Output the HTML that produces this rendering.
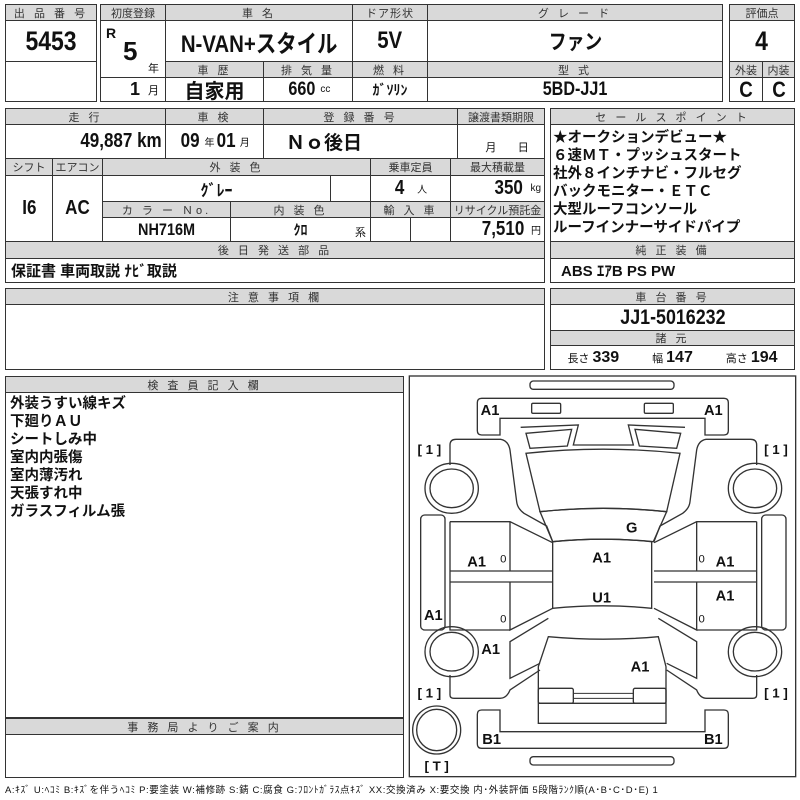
<!DOCTYPE html>
<html><head><meta charset="utf-8">
<style>
body{margin:0;background:#fff;width:800px;height:800px;position:relative;overflow:hidden;font-family:"Liberation Sans","Noto Sans CJK JP",sans-serif;color:#111}
.c{position:absolute;box-sizing:border-box;border:1px solid #333;display:flex;align-items:center;justify-content:center;white-space:nowrap;background:#fff}
.h{background:#d9d9d9;font-size:11px;letter-spacing:3px;color:#333}
.b{font-weight:bold}
.t{position:absolute;white-space:nowrap}
.s{font-size:10px;font-weight:normal;margin-left:3px}
.n{display:inline-block;transform:scaleX(.85)}
</style></head><body>
<!-- block1 -->
<div class="c h" style="left:5px;top:4px;width:92px;height:17px">出 品 番 号</div>
<div class="c b" style="left:5px;top:20px;width:92px;height:42px;font-size:27px"><span class="n">5453</span></div>
<div class="c" style="left:5px;top:61px;width:92px;height:41px"></div>
<!-- block2 -->
<div class="c h" style="left:100px;top:4px;width:66px;height:17px;letter-spacing:0">初度登録</div>
<div class="c h" style="left:165px;top:4px;width:188px;height:17px">車 名</div>
<div class="c h" style="left:352px;top:4px;width:76px;height:17px;letter-spacing:1px">ドア形状</div>
<div class="c h" style="left:427px;top:4px;width:296px;height:17px">グ レ ー ド</div>
<div class="c b" style="left:100px;top:20px;width:66px;height:58px"></div>
<div class="t b" style="left:106px;top:25px;font-size:14px">R</div>
<div class="t b" style="left:123px;top:36px;font-size:26px">5</div>
<div class="t" style="left:148px;top:60px;font-size:11px">年</div>
<div class="c" style="left:100px;top:77px;width:66px;height:25px;justify-content:flex-end;padding-right:6px"><span class="b" style="font-size:18px">1</span><span style="font-size:11px;margin-left:8px">月</span></div>
<div class="c b" style="left:165px;top:20px;width:188px;height:42px;font-size:24px"><span class="n">N-VAN+スタイル</span></div>
<div class="c b" style="left:352px;top:20px;width:76px;height:42px;font-size:24px"><span class="n">5V</span></div>
<div class="c b" style="left:427px;top:20px;width:296px;height:42px;font-size:21px"><span class="n">ファン</span></div>
<div class="c h" style="left:165px;top:61px;width:99px;height:17px">車 歴</div>
<div class="c h" style="left:263px;top:61px;width:90px;height:17px">排 気 量</div>
<div class="c h" style="left:352px;top:61px;width:76px;height:17px">燃 料</div>
<div class="c h" style="left:427px;top:61px;width:296px;height:17px">型 式</div>
<div class="c b" style="left:165px;top:77px;width:99px;height:25px;font-size:20px">自家用</div>
<div class="c b" style="left:263px;top:77px;width:90px;height:25px;font-size:19px"><span class="n">660</span><span class="s">cc</span></div>
<div class="c b" style="left:352px;top:77px;width:76px;height:25px;font-size:14px">ｶﾞｿﾘﾝ</div>
<div class="c b" style="left:427px;top:77px;width:296px;height:25px;font-size:19px"><span class="n">5BD-JJ1</span></div>
<!-- block3 -->
<div class="c h" style="left:729px;top:4px;width:66px;height:17px;letter-spacing:0">評価点</div>
<div class="c b" style="left:729px;top:20px;width:66px;height:42px;font-size:27px"><span class="n">4</span></div>
<div class="c h" style="left:729px;top:61px;width:34px;height:17px;letter-spacing:0">外装</div>
<div class="c h" style="left:762px;top:61px;width:33px;height:17px;letter-spacing:0">内装</div>
<div class="c b" style="left:729px;top:77px;width:34px;height:25px;font-size:22px"><span class="n">C</span></div>
<div class="c b" style="left:762px;top:77px;width:33px;height:25px;font-size:22px"><span class="n">C</span></div>
<!-- section2 -->
<div class="c h" style="left:5px;top:108px;width:161px;height:17px">走 行</div>
<div class="c h" style="left:165px;top:108px;width:99px;height:17px">車 検</div>
<div class="c h" style="left:263px;top:108px;width:195px;height:17px">登 録 番 号</div>
<div class="c h" style="left:457px;top:108px;width:88px;height:17px;letter-spacing:0">譲渡書類期限</div>
<div class="c b" style="left:5px;top:124px;width:161px;height:35px;justify-content:flex-end;padding-right:3px;font-size:20px"><span class="n" style="transform-origin:right">49,887 km</span></div>
<div class="c b" style="left:165px;top:124px;width:99px;height:35px;font-size:20px"><span class="n">09</span><span class="s">年</span><span class="n">01</span><span class="s">月</span></div>
<div class="c b" style="left:263px;top:124px;width:195px;height:35px;justify-content:flex-start;padding-left:22px;font-size:19px">Ｎｏ後日</div>
<div class="c" style="left:457px;top:124px;width:88px;height:35px;align-items:flex-end;padding-bottom:3px;font-size:11px">&nbsp;&nbsp;&nbsp;&nbsp;月&nbsp;&nbsp;&nbsp;&nbsp;&nbsp;&nbsp;&nbsp;日</div>
<div class="c h" style="left:5px;top:158px;width:48px;height:18px;letter-spacing:0">シフト</div>
<div class="c h" style="left:52px;top:158px;width:51px;height:18px;letter-spacing:0">エアコン</div>
<div class="c h" style="left:102px;top:158px;width:269px;height:18px">外 装 色</div>
<div class="c h" style="left:370px;top:158px;width:81px;height:18px;letter-spacing:0">乗車定員</div>
<div class="c h" style="left:450px;top:158px;width:95px;height:18px;letter-spacing:0">最大積載量</div>
<div class="c b" style="left:5px;top:175px;width:48px;height:67px;font-size:20px"><span class="n">I6</span></div>
<div class="c b" style="left:52px;top:175px;width:51px;height:67px;font-size:20px"><span class="n">AC</span></div>
<div class="c b" style="left:102px;top:175px;width:229px;height:27px;font-size:16px">ｸﾞﾚｰ</div>
<div class="c" style="left:330px;top:175px;width:41px;height:27px"></div>
<div class="c b" style="left:370px;top:175px;width:81px;height:27px;font-size:20px"><span class="n">4</span><span class="s" style="margin-left:12px">人</span></div>
<div class="c b" style="left:450px;top:175px;width:95px;height:27px;justify-content:flex-end;padding-right:3px;font-size:20px"><span class="n">350</span><span class="s" style="margin-left:5px">kg</span></div>
<div class="c h" style="left:102px;top:201px;width:129px;height:17px">カ ラ ー Ｎo.</div>
<div class="c h" style="left:230px;top:201px;width:141px;height:17px">内 装 色</div>
<div class="c h" style="left:370px;top:201px;width:81px;height:17px">輸 入 車</div>
<div class="c h" style="left:450px;top:201px;width:95px;height:17px;letter-spacing:0">リサイクル預託金</div>
<div class="c b" style="left:102px;top:217px;width:129px;height:25px;font-size:17px"><span class="n">NH716M</span></div>
<div class="c b" style="left:230px;top:217px;width:141px;height:25px;font-size:14px">ｸﾛ</div>
<div class="t" style="left:355px;top:224px;font-size:11px">系</div>
<div class="c" style="left:370px;top:217px;width:41px;height:25px"></div>
<div class="c" style="left:410px;top:217px;width:41px;height:25px"></div>
<div class="c b" style="left:450px;top:217px;width:95px;height:25px;justify-content:flex-end;padding-right:3px;font-size:20px"><span class="n">7,510</span><span class="s">円</span></div>
<div class="c h" style="left:5px;top:241px;width:540px;height:18px">後 日 発 送 部 品</div>
<div class="c b" style="left:5px;top:258px;width:540px;height:25px;justify-content:flex-start;padding-left:5px;font-size:15px">保証書 車両取説 ﾅﾋﾞ取説</div>
<!-- sales -->
<div class="c h" style="left:550px;top:108px;width:245px;height:17px">セ ー ル ス ポ イ ン ト</div>
<div class="c b" style="left:550px;top:124px;width:245px;height:118px;flex-direction:column;align-items:flex-start;justify-content:flex-start;padding:4px 0 0 2px;font-size:14.5px;line-height:18px">
<div>★オークションデビュー★</div><div>６速ＭＴ・プッシュスタート</div><div>社外８インチナビ・フルセグ</div><div>バックモニター・ＥＴＣ</div><div>大型ルーフコンソール</div><div>ルーフインナーサイドパイプ</div></div>
<div class="c h" style="left:550px;top:241px;width:245px;height:18px">純 正 装 備</div>
<div class="c b" style="left:550px;top:258px;width:245px;height:25px;justify-content:flex-start;padding-left:10px;font-size:15px">ABS ｴｱB PS PW</div>
<!-- notes -->
<div class="c h" style="left:5px;top:288px;width:540px;height:17px">注 意 事 項 欄</div>
<div class="c" style="left:5px;top:304px;width:540px;height:66px"></div>
<div class="c h" style="left:550px;top:288px;width:245px;height:17px">車 台 番 号</div>
<div class="c b" style="left:550px;top:304px;width:245px;height:27px;font-size:21px"><span class="n">JJ1-5016232</span></div>
<div class="c h" style="left:550px;top:330px;width:245px;height:16px">諸 元</div>
<div class="c" style="left:550px;top:345px;width:245px;height:25px;justify-content:space-around;font-size:11px">
<span>長さ <b style="font-size:16px">339</b></span><span>幅 <b style="font-size:16px">147</b></span><span>高さ <b style="font-size:16px">194</b></span></div>
<!-- inspector -->
<div class="c h" style="left:5px;top:376px;width:399px;height:17px">検 査 員 記 入 欄</div>
<div class="c b" style="left:5px;top:392px;width:399px;height:326px;flex-direction:column;align-items:flex-start;justify-content:flex-start;padding:2px 0 0 4px;font-size:14.5px;line-height:18px">
<div>外装うすい線キズ</div><div>下廻りＡＵ</div><div>シートしみ中</div><div>室内内張傷</div><div>室内薄汚れ</div><div>天張すれ中</div><div>ガラスフィルム張</div></div>
<div class="c h" style="left:5px;top:718px;width:399px;height:17px">事 務 局 よ り ご 案 内</div>
<div class="c" style="left:5px;top:734px;width:399px;height:44px"></div>
<div class="t" style="left:5px;top:782px;font-size:9.5px;letter-spacing:0.6px">A:ｷｽﾞ U:ﾍｺﾐ B:ｷｽﾞを伴うﾍｺﾐ P:要塗装 W:補修跡 S:錆 C:腐食 G:ﾌﾛﾝﾄｶﾞﾗｽ点ｷｽﾞ XX:交換済み X:要交換 内･外装評価 5段階ﾗﾝｸ順(A･B･C･D･E) 1</div>
<!-- diagram -->
<svg style="position:absolute;left:0;top:0" width="800" height="800">
<g transform="translate(400,370) scale(0.33333)" fill="none" stroke="#333" stroke-width="4">
<rect x="28" y="18" width="1159" height="1202" stroke-width="4"/>
<rect x="390" y="33" width="432" height="25" rx="10"/>
<rect x="390" y="1160" width="432" height="25" rx="10"/>
<path d="M245,85 H972 Q985,85 985,98 V182 Q985,195 972,195 H915 V145 H300 V195 H245 Q232,195 232,182 V98 Q232,85 245,85 Z"/>
<path d="M245,1020 H300 V1085 H915 V1020 H972 Q985,1020 985,1033 V1122 Q985,1135 972,1135 H245 Q232,1135 232,1122 V1033 Q232,1020 245,1020 Z"/>
<rect x="395" y="100" width="87" height="30" rx="4"/>
<rect x="733" y="100" width="87" height="30" rx="4"/>
<path d="M362,172 L535,165 L520,225 H700 L685,165 L855,172"/>
<path d="M378,250 Q610,225 840,250 L800,425 Q610,405 420,425 Z"/>
<path d="M420,425 Q610,405 800,425 L760,515 Q610,500 458,515 Z"/>
<path d="M458,515 Q610,500 755,515 V715 Q610,700 458,715 Z"/>
<path d="M445,800 Q610,815 775,800 L798,890 V1060 H415 V890 Z M415,1000 H798"/>
<rect x="415" y="955" width="105" height="45" rx="5"/>
<rect x="700" y="955" width="98" height="45" rx="5"/>
<path d="M520,970 H700 M520,985 H700" stroke-width="3"/>
<circle cx="110" cy="1080" r="72"/><ellipse cx="110" cy="1080" rx="60" ry="62"/>
<g id="side">
<path d="M378,190 L515,178 L502,228 L390,235 Z"/>
<path d="M150,285 V225 Q150,208 168,208 H302 Q325,212 330,240 L350,395 Q352,415 372,430 L440,468 L458,515"/>
<ellipse cx="155" cy="355" rx="80" ry="75"/><ellipse cx="155" cy="355" rx="65" ry="58"/>
<rect x="62" y="435" width="73" height="345" rx="12"/>
<path d="M150,455 H330 L458,518 M330,455 V603 M150,455 V780 H330 M150,603 H458 M150,636 H458 M330,636 V780 L458,715"/>
<ellipse cx="155" cy="845" rx="80" ry="75"/><ellipse cx="155" cy="845" rx="65" ry="58"/>
<path d="M445,745 L330,815 V925 L420,880 M150,915 V975 Q150,985 162,985 H300 Q320,985 330,960 L420,900"/>
</g>
<use href="#side" transform="translate(1220,0) scale(-1,1)"/>
</g>
<g transform="translate(400,370) scale(0.33333)" fill="#111" font-family="Liberation Sans, sans-serif" font-weight="bold" font-size="44" text-anchor="middle">
<text x="270" y="135">A1</text><text x="940" y="135">A1</text>
<text x="695" y="487">G</text>
<text x="605" y="577">A1</text><text x="605" y="697">U1</text>
<text x="230" y="590">A1</text><text x="975" y="590">A1</text><text x="975" y="692">A1</text>
<text x="100" y="750">A1</text><text x="272" y="852">A1</text><text x="720" y="905">A1</text>
<text x="275" y="1122">B1</text><text x="940" y="1122">B1</text>
<g font-weight="normal" font-size="34"><text x="310" y="578">0</text><text x="905" y="578">0</text><text x="310" y="758">0</text><text x="905" y="758">0</text></g>
<g font-size="40"><text x="88" y="252">[ 1 ]</text><text x="1128" y="252">[ 1 ]</text><text x="88" y="982">[ 1 ]</text><text x="1128" y="982">[ 1 ]</text><text x="110" y="1202">[ T ]</text></g>
</g>
</svg>
</body></html>
